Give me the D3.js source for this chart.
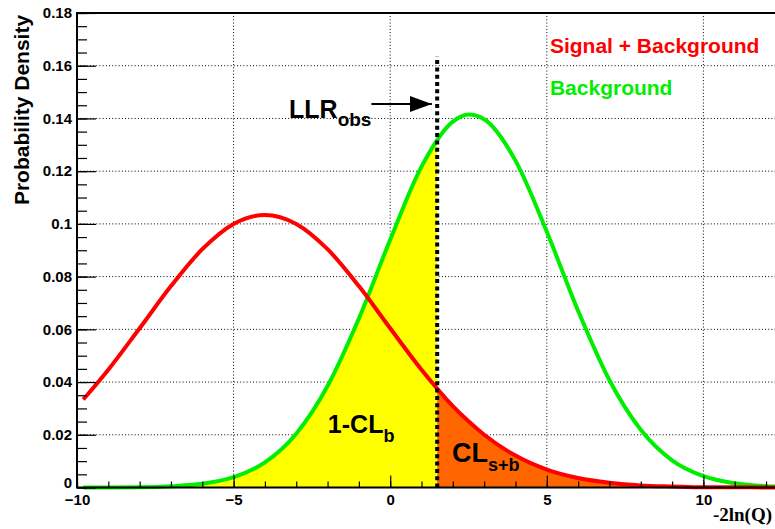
<!DOCTYPE html>
<html>
<head>
<meta charset="utf-8">
<script src="https://cdn.jsdelivr.net/npm/d3@7"></script>
<style>
  body { margin: 0; background: #fff; overflow: hidden; }
  text { font-family: "Liberation Sans", Arial, Helvetica, sans-serif; font-weight: bold; }
</style>
</head>
<body>
<div id="chart"></div>
<script>
// -2ln(Q) sample points
const xValues = [-9.8, -9, -8, -7, -6, -5, -4, -3, -2, -1, 0, 1, 2, 2.5, 3, 4, 5, 6, 7, 8, 9, 10, 11, 12, 12.5];
// Background only (green)
const bkgValues = [0.0000, 0.0000, 0.0001, 0.0005, 0.0014, 0.0039, 0.0095, 0.0204, 0.0385, 0.0641, 0.0940,
                   0.1217, 0.1388, 0.1415, 0.1397, 0.1240, 0.0970, 0.0670, 0.0407, 0.0219, 0.0103, 0.0043,
                   0.0016, 0.0005, 0.0003];
// Signal + Background (red)
const sbValues = [0.0334, 0.0447, 0.0604, 0.0764, 0.0904, 0.1000, 0.1034, 0.1000, 0.0904, 0.0764, 0.0604,
                  0.0447, 0.0309, 0.0251, 0.0200, 0.0121, 0.0068, 0.0036, 0.0018, 0.0008, 0.0004, 0.0001,
                  0.0001, 0.0000, 0.0000];
const llrObs = 1.5;
const llrTop = 0.1635;

const xMajorTicks = [-10, -5, 0, 5, 10];
const yMajorTicks = [0, 0.02, 0.04, 0.06, 0.08, 0.1, 0.12, 0.14, 0.16, 0.18];

const width = 775, height = 529;
const margin = { top: 13, left: 77, bottom: 41.5 };

const svg = d3.select('#chart').append('svg')
    .attr('width', width)
    .attr('height', height);

const x = d3.scaleLinear().domain([-10, 12.5]).range([margin.left, margin.left + 22.5 * 31.32]);
const y = d3.scaleLinear().domain([0, 0.18]).range([height - margin.bottom, margin.top]);

const pts = xValues.map((v, i) => ({ x: v, b: bkgValues[i], sb: sbValues[i] }));

// grid
const grid = svg.append('g')
    .attr('stroke', '#000')
    .attr('stroke-width', 1)
    .attr('stroke-dasharray', '1,2.2');
grid.selectAll('line.gx')
    .data(xMajorTicks.filter(d => d > -10))
    .enter().append('line')
    .attr('x1', d => x(d)).attr('x2', d => x(d))
    .attr('y1', y(0)).attr('y2', y(0.18));
grid.selectAll('line.gy')
    .data(yMajorTicks.filter(d => d > 0 && d < 0.18))
    .enter().append('line')
    .attr('x1', x(-10)).attr('x2', width + 10)
    .attr('y1', d => y(d)).attr('y2', d => y(d));

// clip regions left/right of the observed value
const defs = svg.append('defs');
defs.append('clipPath').attr('id', 'clipLeft').append('rect')
    .attr('x', x(-10)).attr('y', 0)
    .attr('width', x(llrObs) - x(-10)).attr('height', height);
defs.append('clipPath').attr('id', 'clipRight').append('rect')
    .attr('x', x(llrObs)).attr('y', 0)
    .attr('width', width - x(llrObs) + 20).attr('height', height);

const areaB = d3.area().x(d => x(d.x)).y0(y(0)).y1(d => y(d.b)).curve(d3.curveMonotoneX);
const areaSB = d3.area().x(d => x(d.x)).y0(y(0)).y1(d => y(d.sb)).curve(d3.curveMonotoneX);

svg.append('path').datum(pts)
    .attr('d', areaB)
    .attr('fill', '#ffff00')
    .attr('clip-path', 'url(#clipLeft)');
svg.append('path').datum(pts)
    .attr('d', areaSB)
    .attr('fill', '#ff6600')
    .attr('clip-path', 'url(#clipRight)');

const lineB = d3.line().x(d => x(d.x)).y(d => y(d.b)).curve(d3.curveMonotoneX);
const lineSB = d3.line().x(d => x(d.x)).y(d => y(d.sb)).curve(d3.curveMonotoneX);

svg.append('path').datum(pts)
    .attr('d', lineB)
    .attr('fill', 'none')
    .attr('stroke', '#00ee00')
    .attr('stroke-width', 4);
svg.append('path').datum(pts)
    .attr('d', lineSB)
    .attr('fill', 'none')
    .attr('stroke', '#ff0000')
    .attr('stroke-width', 4);

// observed LLR line
svg.append('line')
    .attr('x1', x(llrObs)).attr('x2', x(llrObs))
    .attr('y1', y(0)).attr('y2', y(llrTop))
    .attr('stroke', '#000')
    .attr('stroke-width', 4)
    .attr('stroke-dasharray', '4,3.3');

// axes
svg.append('g')
    .attr('transform', `translate(0,${y(0)})`)
    .call(d3.axisBottom(x).tickValues(xMajorTicks).tickSize(-12).tickPadding(7).tickFormat(d3.format('d')));
svg.append('g')
    .attr('transform', `translate(0,${y(0)})`)
    .call(d3.axisBottom(x).tickValues(d3.range(-10, 13, 1)).tickSize(-6).tickFormat(''));
const yAxis = svg.append('g')
    .attr('transform', `translate(${x(-10)},0)`)
    .call(d3.axisLeft(y).tickValues(yMajorTicks).tickSize(-19).tickPadding(5)
        .tickFormat(d => d === 0 ? '0' : String(+d.toFixed(2))));
svg.append('g')
    .attr('transform', `translate(${x(-10)},0)`)
    .call(d3.axisLeft(y).tickValues(d3.range(0, 0.1801, 0.005)).tickSize(-10).tickFormat(''));

svg.selectAll('.domain').remove();
svg.selectAll('.tick line').attr('stroke', '#000').attr('stroke-width', 1.2);
svg.selectAll('.tick text')
    .attr('fill', '#000')
    .style('font-size', '15px')
    .style('font-family', '"Liberation Sans", Arial, sans-serif')
    .style('font-weight', 'bold');
// lift the "0" a little so it clears the "-10" below it
yAxis.selectAll('.tick text').filter(d => d === 0).attr('dy', '0em');

// frame
svg.append('path')
    .attr('d', `M${width + 10},${y(0.18)}H${x(-10)}V${y(0)}H${width + 10}`)
    .attr('fill', 'none')
    .attr('stroke', '#000')
    .attr('stroke-width', 2);

// axis titles
svg.append('text')
    .attr('transform', 'rotate(-90)')
    .attr('x', -110)
    .attr('y', 29)
    .attr('text-anchor', 'middle')
    .style('font-size', '21px')
    .text('Probability Density');

svg.append('text')
    .attr('x', 772)
    .attr('y', 521)
    .attr('text-anchor', 'end')
    .style('font-family', '"Liberation Serif", "Times New Roman", serif')
    .style('font-size', '19px')
    .text('-2ln(Q)');

// legend labels
svg.append('text')
    .attr('x', x(5.1)).attr('y', y(0.1647))
    .attr('fill', '#ff0000')
    .style('font-size', '21px')
    .text('Signal + Background');
svg.append('text')
    .attr('x', x(5.1)).attr('y', y(0.1489))
    .attr('fill', '#00ee00')
    .style('font-size', '21px')
    .text('Background');

// LLR_obs annotation with arrow
const llrText = svg.append('text')
    .attr('x', x(-3.23)).attr('y', y(0.1402))
    .style('font-size', '25px');
llrText.append('tspan').text('LLR');
llrText.append('tspan').attr('dy', 8).style('font-size', '19px').text('obs');

defs.append('marker')
    .attr('id', 'arrowHead')
    .attr('markerUnits', 'userSpaceOnUse')
    .attr('markerWidth', 22).attr('markerHeight', 18)
    .attr('refX', 22).attr('refY', 9)
    .attr('orient', 'auto')
    .append('path')
    .attr('d', 'M0,1L22,9L0,17Z')
    .attr('fill', '#000');
svg.append('line')
    .attr('x1', x(-0.6)).attr('x2', x(1.33))
    .attr('y1', y(0.1455)).attr('y2', y(0.1455))
    .attr('stroke', '#000')
    .attr('stroke-width', 2)
    .attr('marker-end', 'url(#arrowHead)');

// area labels
const clbText = svg.append('text')
    .attr('x', x(-1.99)).attr('y', y(0.0206))
    .style('font-size', '25px');
clbText.append('tspan').text('1-CL');
clbText.append('tspan').attr('dy', 9).style('font-size', '18px').text('b');

const clsbText = svg.append('text')
    .attr('x', x(1.97)).attr('y', y(0.0097))
    .style('font-size', '27px');
clsbText.append('tspan').text('CL');
clsbText.append('tspan').attr('dy', 9).style('font-size', '18px').text('s+b');
</script>
</body>
</html>
